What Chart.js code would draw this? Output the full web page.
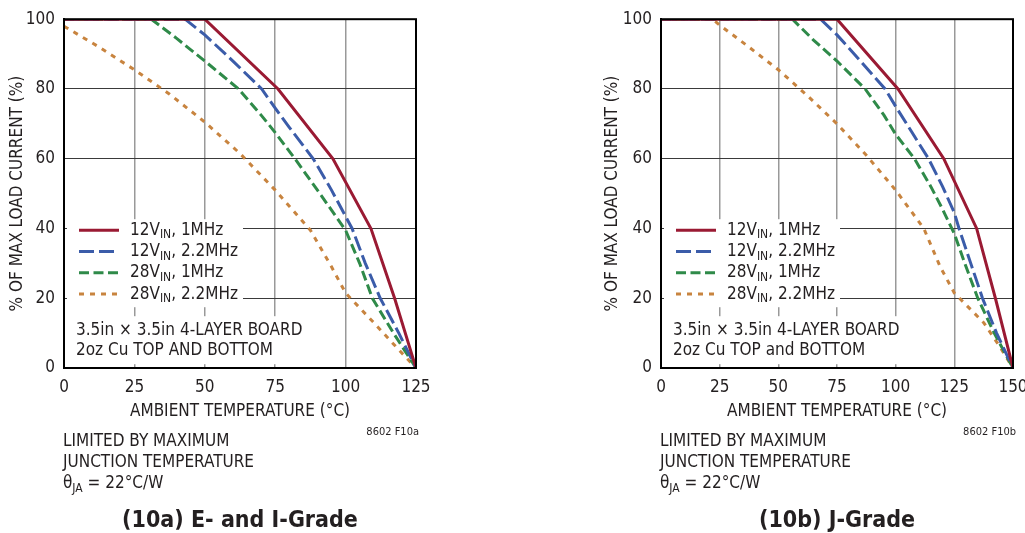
<!DOCTYPE html>
<html>
<head>
<meta charset="utf-8">
<script src="https://cdn.jsdelivr.net/npm/chart.js@4.4.0/dist/chart.umd.min.js"></script>
<style>
  body { margin: 0; background: #fff; width: 1025px; height: 533px; overflow: hidden; position: relative; }
  canvas { position: absolute; top: 0; }
  #chartA { left: 0; }
  #chartB { left: 512px; }
</style>
</head>
<body>
<canvas id="chartA" width="512" height="533"></canvas>
<canvas id="chartB" width="530" height="533"></canvas>
<script>
// legend entries (same for both panels)
const seriesVin = ['12V', '12V', '28V', '28V'];
const seriesFreq = [', 1MHz', ', 2.2MHz', ', 1MHz', ', 2.2MHz'];
const seriesColors = ['#9a1a33', '#3b5ca9', '#2f8a49', '#c8843f'];
const seriesDash = [[], [15, 5], [10, 4.5], [5, 6]];

// (10a) E- and I-Grade: [ambient temperature °C, % of max load current]
const gradeA_12v1m = [[0, 100], [50, 100], [76, 80], [95.5, 60], [109, 40], [117.4, 20], [125, 0]];
const gradeA_12v22m = [[0, 100], [43, 100], [50, 95.5], [60, 88], [70.2, 80], [75, 74.5], [80, 69], [88.5, 60], [95, 51], [102.3, 40], [107, 30], [112.3, 20], [118.9, 10], [125, 0]];
const gradeA_28v1m = [[0, 100], [31, 100], [40, 94.5], [50, 88], [62, 80], [70, 72.5], [75, 67.5], [82, 60], [90, 51], [100, 39.5], [105, 30], [109.5, 20], [117, 10], [125, 0]];
const gradeA_28v22m = [[0, 98], [12.5, 92], [25, 85.5], [37.5, 78.5], [50, 70.5], [62.5, 61.5], [75, 51], [87.5, 39.5], [95, 29], [100, 21.5], [110, 13], [118, 6], [125, 0]];

// (10b) J-Grade
const gradeB_12v1m = [[0, 100], [75, 100], [101, 80], [120.5, 60], [134.5, 40], [142.5, 20], [150, 0]];
const gradeB_12v22m = [[0, 100], [68, 100], [75, 95.5], [85, 88], [95.5, 80], [100, 75], [107, 67.5], [114, 60], [120, 52], [125, 44.5], [127, 40], [132, 30], [137, 20], [143, 10], [150, 0]];
const gradeB_28v1m = [[0, 100], [56, 100], [65, 94], [75, 88], [87, 80], [95, 72.5], [100, 67], [108, 60], [115, 52], [120, 45.5], [125, 38.5], [130, 29], [135, 20], [142, 10], [150, 0]];
const gradeB_28v22m = [[0, 100], [22, 100], [25, 98.3], [37.5, 92], [50, 85.5], [62.5, 78], [75, 70], [87.5, 61], [100, 51], [112, 40], [119, 29], [125, 21.5], [137.5, 13], [144, 6.5], [150, 0]];

const FONT = '"Liberation Sans Narrow", "DejaVu Sans Condensed", "Arial Narrow", sans-serif';
const INK = '#231f20';

Chart.defaults.font.family = FONT;
Chart.defaults.color = INK;

// draws text made of normal and subscript parts, returns end x
function drawParts(ctx, x, y, parts, size) {
  parts.forEach(([txt, sub]) => {
    ctx.font = (sub ? Math.round(size * 0.72) : size) + 'px ' + FONT;
    ctx.fillText(txt, x, sub ? y + size * 0.3 : y);
    x += ctx.measureText(txt).width;
  });
  return x;
}

function overlay(opts) {
  return {
    id: 'overlay',
    beforeDatasetsDraw(chart) {
      const { left, top } = chart.chartArea;
      const ctx = chart.ctx;
      ctx.save();
      ctx.fillStyle = '#fff';
      ctx.fillRect(left + 3, top + 200, 176, 88);   // legend
      ctx.fillRect(left + 3, top + 297, 238, 48);   // board note
      ctx.restore();
    },
    afterDatasetsDraw(chart) {
      const { left, top, right, bottom } = chart.chartArea;
      const ctx = chart.ctx;
      ctx.save();
      ctx.strokeStyle = '#000';
      ctx.lineWidth = 2;
      ctx.strokeRect(left, top, right - left, bottom - top);

      // legend
      ctx.textBaseline = 'middle';
      ctx.fillStyle = INK;
      for (let i = 0; i < 4; i++) {
        const y = top + 211 + i * 21.3;
        ctx.beginPath();
        ctx.strokeStyle = seriesColors[i];
        ctx.lineWidth = 3;
        ctx.setLineDash(seriesDash[i]);
        ctx.moveTo(left + 15, y);
        ctx.lineTo(left + 55, y);
        ctx.stroke();
        ctx.setLineDash([]);
        drawParts(ctx, left + 66, y, [[seriesVin[i]], ['IN', true], [seriesFreq[i]]], 17);
      }

      ctx.font = '17px ' + FONT;
      ctx.fillText('3.5in \u00d7 3.5in 4-LAYER BOARD', left + 12, top + 311);
      ctx.fillText(opts.boardLine, left + 12, top + 331);
      ctx.restore();
    },
    afterDraw(chart) {
      const { left, right } = chart.chartArea;
      const ctx = chart.ctx;
      ctx.save();
      ctx.fillStyle = INK;
      ctx.textBaseline = 'middle';
      ctx.font = '17px ' + FONT;
      ctx.fillText('LIMITED BY MAXIMUM', left - 1, 442);
      ctx.fillText('JUNCTION TEMPERATURE', left - 1, 463);
      drawParts(ctx, left - 1, 484, [['\u03b8'], ['JA', true], [' = 22\u00b0C/W']], 17);

      ctx.font = '11px ' + FONT;
      ctx.textAlign = 'right';
      ctx.fillText(opts.code, right + 3, 432);

      ctx.font = 'bold 23px ' + FONT;
      ctx.textAlign = 'center';
      ctx.fillText(opts.caption, (left + right) / 2, 521);
      ctx.restore();
    }
  };
}

function makeChart(id, opts) {
  const tickFont = { size: 17, family: FONT };
  return new Chart(document.getElementById(id), {
    type: 'line',
    data: {
      datasets: opts.series.map((pts, i) => ({
        data: pts.map(p => ({ x: p[0], y: p[1] })),
        borderColor: seriesColors[i],
        borderDash: seriesDash[i],
        borderWidth: 3,
        borderCapStyle: 'butt',
        pointRadius: 0,
        fill: false,
        tension: 0
      }))
    },
    options: {
      responsive: false,
      animation: false,
      layout: { padding: { left: opts.padLeft, top: 17, right: opts.padRight, bottom: 111 } },
      plugins: { legend: { display: false }, tooltip: { enabled: false } },
      scales: {
        x: {
          type: 'linear',
          min: 0,
          max: opts.xMax,
          ticks: { stepSize: 25, padding: 9, color: INK, font: tickFont },
          grid: { color: '#999999', lineWidth: 1.5, drawTicks: false },
          border: { color: '#000', width: 2 },
          title: { display: true, text: 'AMBIENT TEMPERATURE (\u00b0C)', color: INK, font: tickFont, padding: 0 },
          afterFit(scale) { scale.height = 54; }
        },
        y: {
          min: 0,
          max: 100,
          ticks: { stepSize: 20, padding: 9, color: INK, font: tickFont },
          grid: { color: '#3a3a3a', lineWidth: 1, drawTicks: false },
          border: { color: '#000', width: 2 },
          title: { display: true, text: '% OF MAX LOAD CURRENT (%)', color: INK, font: tickFont, padding: { top: opts.titlePad, bottom: 0 } },
          afterFit(scale) { scale.width = 64; }
        }
      }
    },
    plugins: [overlay(opts)]
  });
}

makeChart('chartA', {
  series: [gradeA_12v1m, gradeA_12v22m, gradeA_28v1m, gradeA_28v22m],
  xMax: 125,
  padLeft: 0,
  padRight: 96,
  titlePad: 7,
  boardLine: '2oz Cu TOP AND BOTTOM',
  code: '8602 F10a',
  caption: '(10a) E- and I-Grade'
});

makeChart('chartB', {
  series: [gradeB_12v1m, gradeB_12v22m, gradeB_28v1m, gradeB_28v22m],
  xMax: 150,
  padLeft: 85,
  padRight: 29,
  titlePad: 5,
  boardLine: '2oz Cu TOP and BOTTOM',
  code: '8602 F10b',
  caption: '(10b) J-Grade'
});
</script>
</body>
</html>
